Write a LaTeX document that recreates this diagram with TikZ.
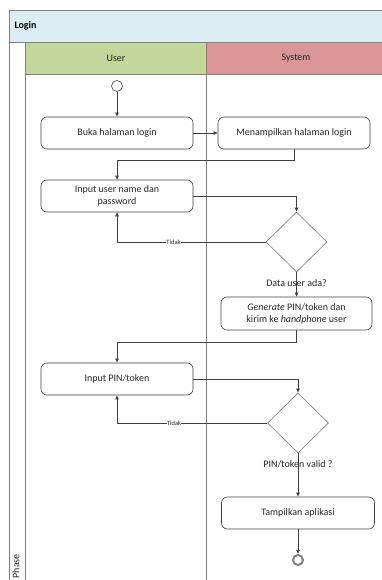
\documentclass[tikz,border=0pt]{standalone}
\usepackage{fontspec}
\setmainfont{Carlito}
\usetikzlibrary{arrows.meta,shapes.geometric}
\definecolor{titlebg}{HTML}{DBEEF4}
\definecolor{userbg}{HTML}{C4D79B}
\definecolor{sysbg}{HTML}{DA9694}
\definecolor{frame}{HTML}{808080}
\definecolor{ink}{HTML}{262626}
\definecolor{wire}{HTML}{404040}
\tikzset{
  x=1pt,y=-1pt,
  actbox/.style={draw=wire,rounded corners=6pt,minimum width=152pt,minimum height=32pt,
    align=center,font=\fontsize{10}{12}\selectfont,text=ink,inner sep=1pt,line width=0.6pt},
  decbox/.style={draw=wire!70,diamond,minimum width=61pt,minimum height=60pt,inner sep=0pt,aspect=1,line width=0.6pt},
  flow/.style={draw=wire,line width=0.6pt,-{Latex[length=4pt,width=4pt]}},
  nolbl/.style={fill=white,inner sep=0.3pt,font=\fontsize{6.5}{7}\selectfont,text=ink},
  condlbl/.style={font=\fontsize{10}{12}\selectfont,text=ink,inner sep=0pt},
  lanehead/.style={font=\fontsize{10}{12}\selectfont,text=ink},
}
\begin{document}
\begin{tikzpicture}
\useasboundingbox (0,0) rectangle (382,580);
\clip (0,0) rectangle (382,580);
% pool
\fill[titlebg] (9,10) rectangle (395,42);
\fill[userbg] (25,42) rectangle (206,74);
\fill[sysbg] (206,42) rectangle (395,74);
\draw[frame,line width=0.8pt] (395,10) -- (9,10) -- (9,590);
\draw[frame,line width=0.8pt] (9,42) -- (395,42);
\draw[frame,line width=0.8pt] (25,74) -- (395,74);
\draw[frame,line width=0.8pt] (25,42) -- (25,590);
\draw[frame,line width=0.8pt] (206,42) -- (206,590);
\node[anchor=west,font=\bfseries\fontsize{10}{12}\selectfont,text=black] (title) at (11,26) {Login};
\node[lanehead] (hu) at (116,58) {User};
\node[lanehead] (hs) at (296,58) {System};
\node[rotate=90,anchor=east,font=\fontsize{10}{11}\selectfont,text=ink,inner sep=0pt] (phase) at (16,554) {Phase};
% nodes
\node[circle,draw=wire,fill=white,minimum size=11pt,inner sep=0pt,line width=0.6pt] (start) at (117,86) {};
\node[actbox] (b1) at (117,133) {Buka halaman login};
\node[actbox] (b2) at (294,133) {Menampilkan halaman login};
\node[actbox] (b3) at (117,196) {Input user name dan\\password};
\node[decbox] (d1) at (296.5,242) {};
\node[actbox,minimum width=151pt,minimum height=33pt] (b4) at (296.5,313.5) {\emph{Generate} PIN/token dan\\kirim ke \emph{handphone} user};
\node[actbox] (b5) at (117,379) {Input PIN/token};
\node[decbox] (d2) at (298,423) {};
\node[actbox,minimum width=153pt] (b6) at (298,513) {Tampilkan aplikasi};
\node[circle,draw=frame,fill=white,minimum size=10pt,inner sep=0pt,line width=2pt] (end) at (298,560) {};
\coordinate (j1) at (117,160);
\coordinate (j2) at (117,342);
% connectors
\draw[flow] (start) -- (b1);
\draw[flow] (b1) -- (b2);
\draw[flow] (b2.south) |- (j1) -- (b3.north);
\draw[flow] (b3.east) -| (d1.north);
\draw[flow] (d1.west) -| node[nolbl,pos=0.31] {Tidak} (b3.south);
\draw[flow] (d1.south) -- (b4.north);
\node[condlbl] (c1) at (296.5,283) {Data user ada?};
\draw[flow] (b4.south) |- (j2) -- (b5.north);
\draw[flow] (b5.east) -| (d2.north);
\draw[flow] (d2.west) -| node[nolbl,pos=0.31] {Tidak} (b5.south);
\draw[flow] (d2.south) -- (b6.north);
\node[condlbl] (c2) at (298,464) {PIN/token valid ?};
\draw[flow] (b6.south) -- (end.north);
\end{tikzpicture}
\end{document}
